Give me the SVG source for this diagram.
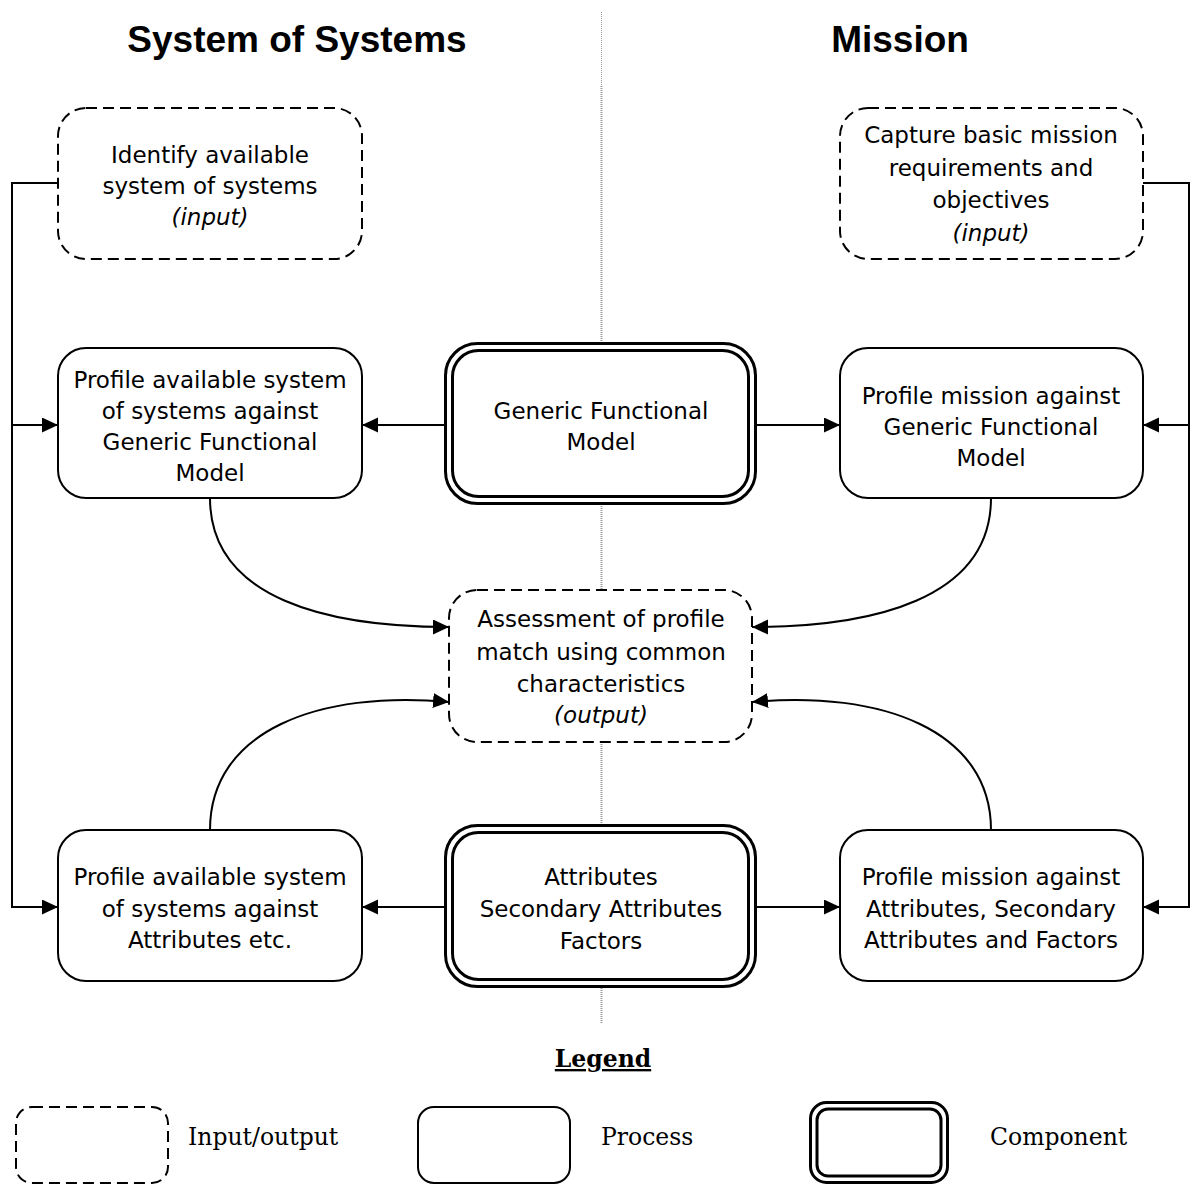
<svg xmlns="http://www.w3.org/2000/svg" width="1195" height="1185" viewBox="0 0 1195 1185">
  <defs>
    <marker id="arrow" markerUnits="userSpaceOnUse" markerWidth="17" markerHeight="16" refX="16" refY="7.5" orient="auto">
      <path d="M0,0 L16,7.5 L0,15 z" fill="#000"/>
    </marker>
    <style>
      .io { fill: #fff; stroke: #000; stroke-width: 2; stroke-dasharray: 11 6; }
      .proc { fill: #fff; stroke: #000; stroke-width: 2; }
      .comp { fill: #fff; stroke: #000; stroke-width: 3; }
      .label { font-family: "DejaVu Sans", Verdana, sans-serif; font-size: 23px; fill: #000; text-anchor: middle; }
      .it { font-style: italic; }
      .title { font-family: "Liberation Sans", Arial, sans-serif; font-size: 37px; font-weight: bold; text-anchor: middle; fill: #000; }
      .legend { font-family: "DejaVu Serif", "Liberation Serif", serif; font-size: 23.5px; fill: #000; }
      .conn { fill: none; stroke: #000; stroke-width: 2; }
      .divider { stroke: #999; stroke-dasharray: 1 1; }
    </style>
  </defs>

  <!-- column divider -->
  <line class="divider" x1="601.5" y1="12" x2="601.5" y2="86" stroke-width="1"/>
  <line class="divider" x1="601.5" y1="86" x2="601.5" y2="1024" stroke-width="2"/>

  <!-- column headings -->
  <text class="title" x="297" y="52">System of Systems</text>
  <text class="title" x="900" y="52">Mission</text>

  <!-- connectors -->
  <g id="connectors">
    <path class="conn" d="M58,183 H12 V907 H58" marker-end="url(#arrow)"/>
    <path class="conn" d="M12,425 H58" marker-end="url(#arrow)"/>
    <path class="conn" d="M1143,183 H1189 V907 H1143" marker-end="url(#arrow)"/>
    <path class="conn" d="M1189,425 H1143" marker-end="url(#arrow)"/>
    <path class="conn" d="M444,425 H362" marker-end="url(#arrow)"/>
    <path class="conn" d="M757,425 H840" marker-end="url(#arrow)"/>
    <path class="conn" d="M444,907 H362" marker-end="url(#arrow)"/>
    <path class="conn" d="M757,907 H840" marker-end="url(#arrow)"/>
    <path class="conn" d="M210,498 C210,600 330,627 449,627" marker-end="url(#arrow)"/>
    <path class="conn" d="M991,498 C991,600 871,627 752,627" marker-end="url(#arrow)"/>
    <path class="conn" d="M210,830 C210,730 320,690 449,702" marker-end="url(#arrow)"/>
    <path class="conn" d="M991,830 C991,730 881,690 752,702" marker-end="url(#arrow)"/>
  </g>

  <!-- inputs -->
  <g id="identify-sos">
    <rect class="io" x="58" y="108" width="304" height="151" rx="28"/>
    <text class="label" x="210" y="163">Identify available</text>
    <text class="label" x="210" y="194">system of systems</text>
    <text class="label it" x="210" y="225">(input)</text>
  </g>
  <g id="capture-mission">
    <rect class="io" x="840" y="108" width="303" height="151" rx="28"/>
    <text class="label" x="991" y="143">Capture basic mission</text>
    <text class="label" x="991" y="175.5">requirements and</text>
    <text class="label" x="991" y="208">objectives</text>
    <text class="label it" x="991" y="240.5">(input)</text>
  </g>

  <!-- generic functional model row -->
  <g id="profile-sos-gfm">
    <rect class="proc" x="58" y="348" width="304" height="150" rx="28"/>
    <text class="label" x="210" y="388">Profile available system</text>
    <text class="label" x="210" y="419">of systems against</text>
    <text class="label" x="210" y="450">Generic Functional</text>
    <text class="label" x="210" y="481">Model</text>
  </g>
  <g id="generic-functional-model">
    <rect class="comp" x="445.5" y="343.5" width="310" height="160" rx="32"/>
    <rect class="comp" x="452.5" y="350.5" width="296" height="146" rx="26"/>
    <text class="label" x="601" y="419">Generic Functional</text>
    <text class="label" x="601" y="450">Model</text>
  </g>
  <g id="profile-mission-gfm">
    <rect class="proc" x="840" y="348" width="303" height="150" rx="28"/>
    <text class="label" x="991" y="404">Profile mission against</text>
    <text class="label" x="991" y="435">Generic Functional</text>
    <text class="label" x="991" y="466">Model</text>
  </g>

  <!-- output -->
  <g id="assessment">
    <rect class="io" x="449" y="590" width="303" height="152" rx="28"/>
    <text class="label" x="601" y="627">Assessment of profile</text>
    <text class="label" x="601" y="660">match using common</text>
    <text class="label" x="601" y="692">characteristics</text>
    <text class="label it" x="601" y="723">(output)</text>
  </g>

  <!-- attributes row -->
  <g id="profile-sos-attributes">
    <rect class="proc" x="58" y="830" width="304" height="151" rx="28"/>
    <text class="label" x="210" y="885">Profile available system</text>
    <text class="label" x="210" y="917">of systems against</text>
    <text class="label" x="210" y="948">Attributes etc.</text>
  </g>
  <g id="attributes">
    <rect class="comp" x="445.5" y="825.5" width="310" height="161" rx="32"/>
    <rect class="comp" x="452.5" y="832.5" width="296" height="147" rx="26"/>
    <text class="label" x="601" y="885">Attributes</text>
    <text class="label" x="601" y="917">Secondary Attributes</text>
    <text class="label" x="601" y="949">Factors</text>
  </g>
  <g id="profile-mission-attributes">
    <rect class="proc" x="840" y="830" width="303" height="151" rx="28"/>
    <text class="label" x="991" y="885">Profile mission against</text>
    <text class="label" x="991" y="917">Attributes, Secondary</text>
    <text class="label" x="991" y="948">Attributes and Factors</text>
  </g>

  <!-- legend -->
  <g id="legend">
    <text class="legend" x="603" y="1067" text-anchor="middle" font-weight="bold" font-size="21.5" text-decoration="underline">Legend</text>
    <rect class="io" x="16" y="1107" width="152" height="76" rx="16"/>
    <text class="legend" x="188" y="1145">Input/output</text>
    <rect class="proc" x="418" y="1107" width="152" height="76" rx="16"/>
    <text class="legend" x="601" y="1145">Process</text>
    <rect class="comp" x="810.5" y="1102.5" width="137" height="80" rx="16"/>
    <rect class="comp" x="817" y="1109" width="124" height="67" rx="11"/>
    <text class="legend" x="990" y="1145">Component</text>
  </g>
</svg>
